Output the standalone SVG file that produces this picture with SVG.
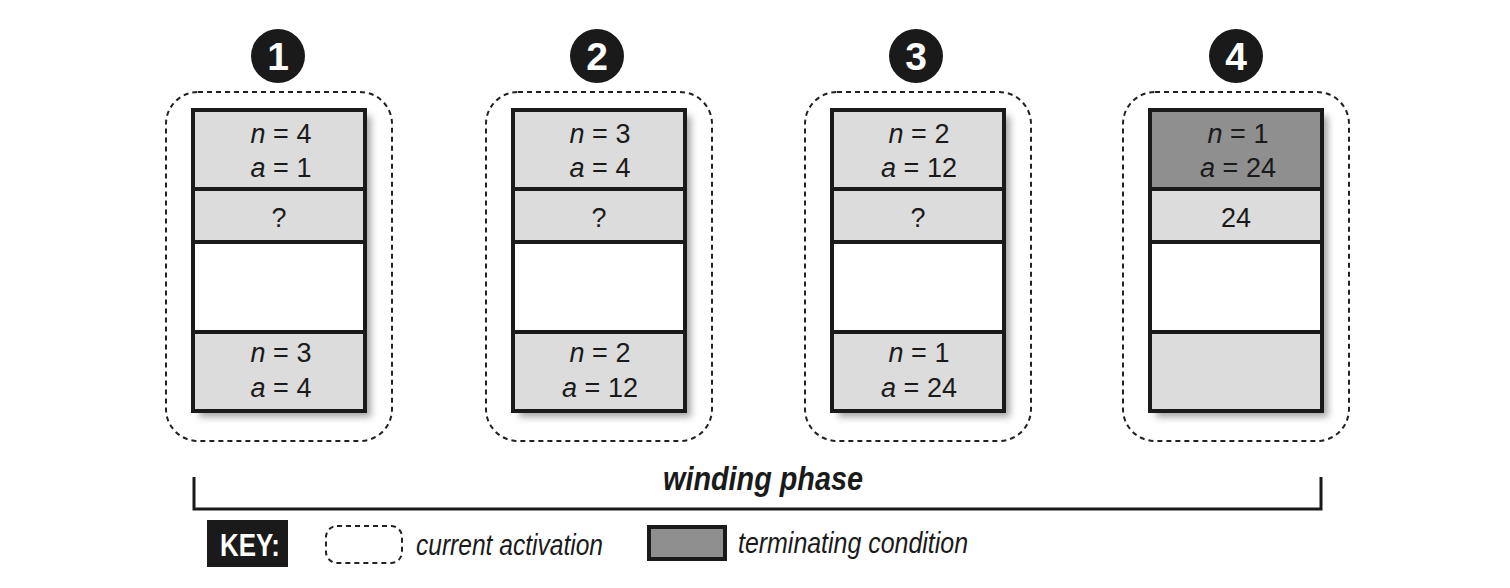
<svg xmlns="http://www.w3.org/2000/svg" width="1510" height="588" viewBox="0 0 1510 588">
<style>
.frame{fill:none;stroke:#222;stroke-width:2;stroke-dasharray:5 4}
.cell{fill:#dcdcdc;stroke:#1a1a1a;stroke-width:4}
.blank{fill:#ffffff;stroke:#1a1a1a;stroke-width:4}
.term{fill:#8f8f8f;stroke:#1a1a1a;stroke-width:4}
.t{font-family:"Liberation Sans",Arial,sans-serif;font-size:27px;fill:#1a1a1a;text-anchor:middle}
.v{font-style:italic}
.num{font-family:"Liberation Sans",Arial,sans-serif;font-size:39px;font-weight:bold;fill:#fff;text-anchor:middle}
.lbl{font-family:"Liberation Sans",Arial,sans-serif;font-size:30px;font-style:italic;fill:#1a1a1a}
</style>
<defs>
<filter id="sh" x="-10%" y="-10%" width="130%" height="130%">
<feDropShadow dx="6" dy="6" stdDeviation="3.5" flood-color="#000" flood-opacity="0.35"/>
</filter>
</defs>

<g id="step1">
<circle cx="278" cy="56" r="27" fill="#1a1a1a"/>
<text class="num" x="278" y="70">1</text>
<rect class="frame" x="166" y="92" width="226" height="349" rx="32"/>
<rect x="193" y="110" width="172" height="301" fill="#fff" filter="url(#sh)"/>
<rect class="cell" x="193" y="110" width="172" height="79"/>
<rect class="cell" x="193" y="189" width="172" height="53"/>
<rect class="blank" x="193" y="242" width="172" height="90"/>
<rect class="cell" x="193" y="332" width="172" height="79"/>
<text class="t" x="281" y="143"><tspan class="v">n</tspan> = 4</text>
<text class="t" x="281" y="177"><tspan class="v">a</tspan> = 1</text>
<text class="t" x="279" y="227">?</text>
<text class="t" x="281" y="362"><tspan class="v">n</tspan> = 3</text>
<text class="t" x="281" y="397"><tspan class="v">a</tspan> = 4</text>
</g>

<g id="step2">
<circle cx="597" cy="56" r="27" fill="#1a1a1a"/>
<text class="num" x="597" y="70">2</text>
<rect class="frame" x="486" y="92" width="226" height="349" rx="32"/>
<rect x="513" y="110" width="172" height="301" fill="#fff" filter="url(#sh)"/>
<rect class="cell" x="513" y="110" width="172" height="79"/>
<rect class="cell" x="513" y="189" width="172" height="53"/>
<rect class="blank" x="513" y="242" width="172" height="90"/>
<rect class="cell" x="513" y="332" width="172" height="79"/>
<text class="t" x="600" y="143"><tspan class="v">n</tspan> = 3</text>
<text class="t" x="600" y="177"><tspan class="v">a</tspan> = 4</text>
<text class="t" x="599" y="227">?</text>
<text class="t" x="600" y="362"><tspan class="v">n</tspan> = 2</text>
<text class="t" x="600" y="397"><tspan class="v">a</tspan> = 12</text>
</g>

<g id="step3">
<circle cx="916" cy="56" r="27" fill="#1a1a1a"/>
<text class="num" x="916" y="70">3</text>
<rect class="frame" x="805" y="92" width="226" height="349" rx="32"/>
<rect x="832" y="110" width="172" height="301" fill="#fff" filter="url(#sh)"/>
<rect class="cell" x="832" y="110" width="172" height="79"/>
<rect class="cell" x="832" y="189" width="172" height="53"/>
<rect class="blank" x="832" y="242" width="172" height="90"/>
<rect class="cell" x="832" y="332" width="172" height="79"/>
<text class="t" x="919" y="143"><tspan class="v">n</tspan> = 2</text>
<text class="t" x="919" y="177"><tspan class="v">a</tspan> = 12</text>
<text class="t" x="918" y="227">?</text>
<text class="t" x="919" y="362"><tspan class="v">n</tspan> = 1</text>
<text class="t" x="919" y="397"><tspan class="v">a</tspan> = 24</text>
</g>

<g id="step4">
<circle cx="1236" cy="56" r="27" fill="#1a1a1a"/>
<text class="num" x="1236" y="70">4</text>
<rect class="frame" x="1123" y="92" width="226" height="349" rx="32"/>
<rect x="1150" y="110" width="172" height="301" fill="#fff" filter="url(#sh)"/>
<rect class="term" x="1150" y="110" width="172" height="79"/>
<rect class="cell" x="1150" y="189" width="172" height="53"/>
<rect class="blank" x="1150" y="242" width="172" height="90"/>
<rect class="cell" x="1150" y="332" width="172" height="79"/>
<text class="t" x="1238" y="143"><tspan class="v">n</tspan> = 1</text>
<text class="t" x="1238" y="177"><tspan class="v">a</tspan> = 24</text>
<text class="t" x="1236" y="227">24</text>
</g>

<g id="connectors">
<path d="M194 477 V509 H1321 V477" fill="none" stroke="#1a1a1a" stroke-width="3"/>
</g>

<g id="phase-label">
<text x="663" y="490" textLength="200" lengthAdjust="spacingAndGlyphs" font-family="&quot;Liberation Sans&quot;,Arial,sans-serif" font-size="34" font-weight="bold" font-style="italic" fill="#1a1a1a">winding phase</text>
</g>

<g id="key">
<rect x="207" y="520" width="81" height="47" fill="#1a1a1a"/>
<text x="220" y="556" textLength="60" lengthAdjust="spacingAndGlyphs" font-family="&quot;Liberation Sans&quot;,Arial,sans-serif" font-size="32" font-weight="bold" fill="#fff">KEY:</text>
<rect class="frame" x="326" y="526" width="76" height="37" rx="11"/>
<text class="lbl" x="416" y="555" textLength="187" lengthAdjust="spacingAndGlyphs">current activation</text>
<rect x="649" y="527" width="76" height="32" fill="#8f8f8f" stroke="#1a1a1a" stroke-width="4"/>
<text class="lbl" x="738" y="553" textLength="230" lengthAdjust="spacingAndGlyphs">terminating condition</text>
</g>
</svg>
